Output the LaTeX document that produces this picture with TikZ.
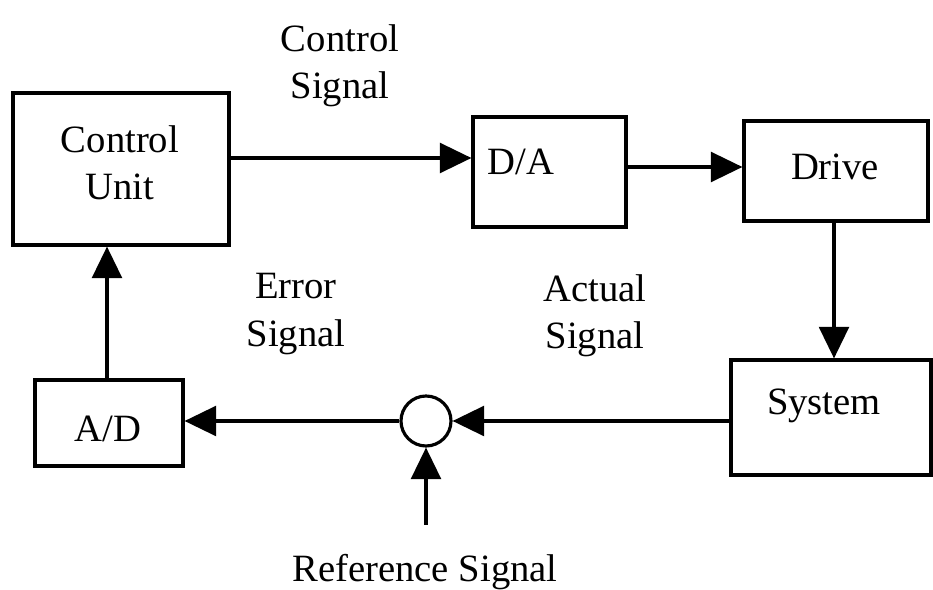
\documentclass[tikz,border=0pt]{standalone}
\usepackage{fontspec}
\setmainfont{Liberation Serif}
\usetikzlibrary{arrows.meta}
\begin{document}
\begin{tikzpicture}[x=0.02cm,y=-0.02cm,
  box/.style={draw, line width=1.8pt, rectangle, inner sep=0pt},
  lbl/.style={font=\fontsize{22}{27}\selectfont, align=center, inner sep=0pt},
  conn/.style={line width=1.8pt, -{Triangle[length=18pt,width=17pt]}}]
\useasboundingbox (0,0) rectangle (933,590);
\fill[white] (0,0) rectangle (933,590);
% boxes
\node[box, minimum width=216*0.02cm, minimum height=152*0.02cm] (cu) at (121,169) {};
\node[lbl] (cut) at (120,163) {Control\\Unit};
\node[box, minimum width=153*0.02cm, minimum height=110*0.02cm] (da) at (549.5,172) {};
\node[lbl] (dat) at (521,162) {D/A};
\node[box, minimum width=184*0.02cm, minimum height=100*0.02cm] (dr) at (836,171) {};
\node[lbl] (drt) at (835,167) {Drive};
\node[box, minimum width=200*0.02cm, minimum height=115*0.02cm] (sy) at (831,417.5) {};
\node[lbl] (syt) at (824,406) {System};
\node[box, minimum width=148*0.02cm, minimum height=86*0.02cm] (ad) at (109,423) {};
\node[lbl] (adt) at (108,429) {A/D};
\node[draw, circle, line width=1.8pt, minimum size=50*0.02cm, inner sep=0pt] (sum) at (426,421) {};
\coordinate (ref) at (426,525);
% labels
\node[lbl] (l1) at (340,66) {Control\\Signal};
\node[lbl] (l2) at (296,314) {Error\\Signal};
\node[lbl] (l3) at (595,316) {Actual\\Signal};
\node[lbl] (l4) at (425,572) {Reference Signal};
% connectors
\draw[conn] (cu.east |- 0,158) -- (da.west |- 0,158);
\draw[conn] (da.east |- 0,167) -- (dr.west |- 0,167);
\draw[conn] (dr.south -| 834,0) -- (sy.north -| 834,0);
\draw[conn] (sy.west |- sum) -- (sum.east);
\draw[conn] (sum.west) -- (ad.east |- sum);
\draw[conn] (ad.north -| 107,0) -- (cu.south -| 107,0);
\draw[conn] (ref) -- (sum.south);
\end{tikzpicture}
\end{document}
